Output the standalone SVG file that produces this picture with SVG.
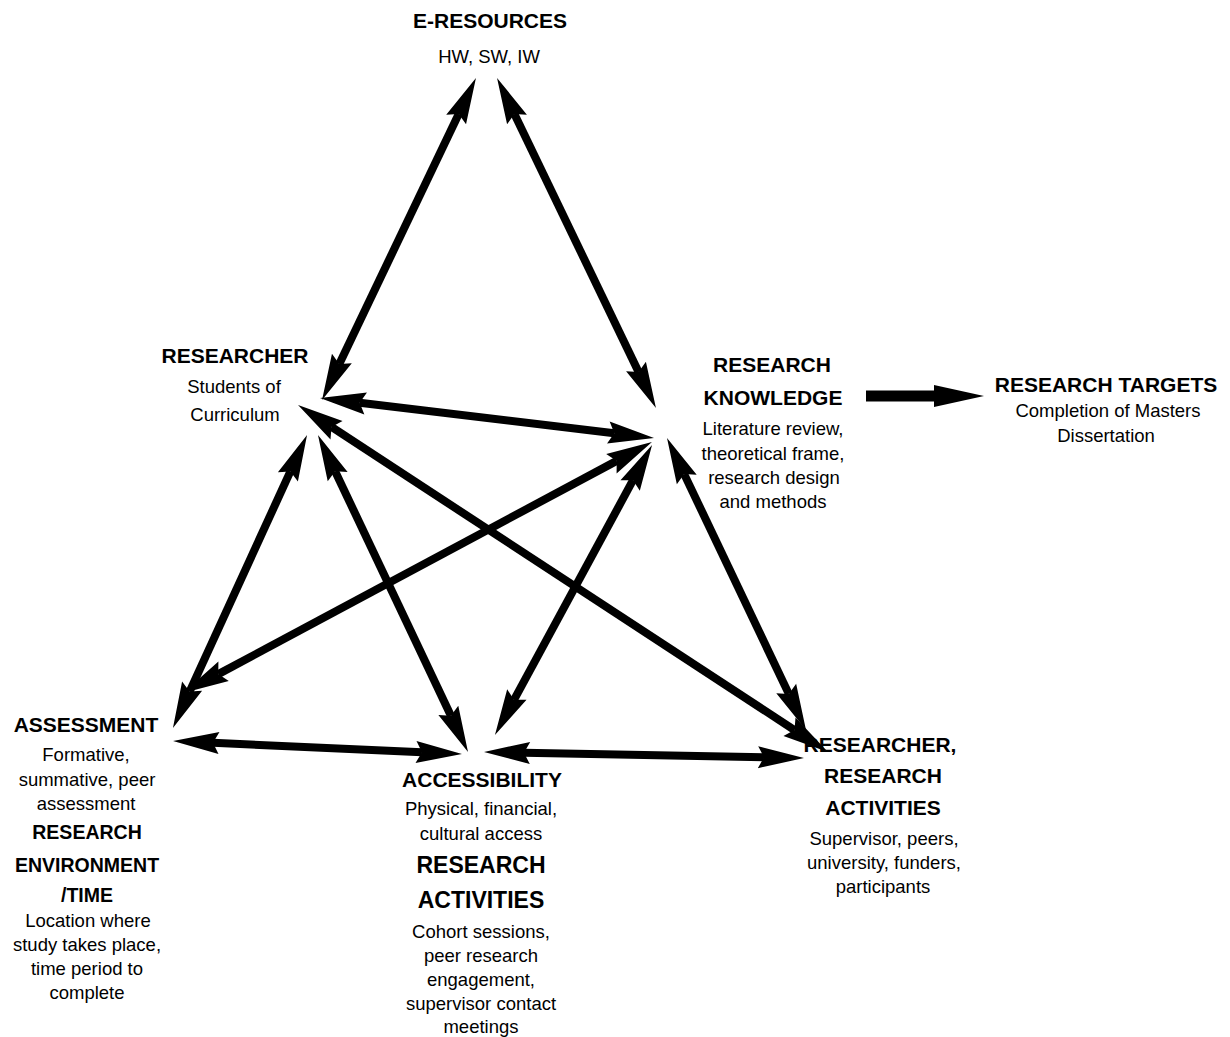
<svg xmlns="http://www.w3.org/2000/svg" width="1230" height="1037" viewBox="0 0 1230 1037">
<defs>
<style>
text{font-family:"Liberation Sans",Arial,sans-serif;fill:#000;text-anchor:middle}
.h{font-weight:bold;font-size:21px}
.h2{font-weight:bold;font-size:23px}
.h3{font-weight:bold;font-size:19.5px}
.b{font-size:18.5px}
.c{stroke:#000;stroke-width:8;fill:none;marker-start:url(#ah);marker-end:url(#ah)}
</style>
<marker id="ah" markerUnits="userSpaceOnUse" markerWidth="46" markerHeight="22" refX="6" refY="11" orient="auto-start-reverse" overflow="visible">
<path d="M0,0 L46,11 L0,22 L6,11 z" fill="#000"/>
</marker>
<marker id="ah2" markerUnits="userSpaceOnUse" markerWidth="50" markerHeight="22" refX="2" refY="11" orient="auto" overflow="visible">
<path d="M0,0 L50,11 L0,22 z" fill="#000"/>
</marker>
</defs>
<rect width="1230" height="1037" fill="#fff"/>
<g id="e-resources">
<text class="h" x="490" y="28">E-RESOURCES</text>
<text class="b" x="489" y="63">HW, SW, IW</text>
</g>
<g id="researcher">
<text class="h" x="235" y="363">RESEARCHER</text>
<text class="b" x="234" y="393">Students of</text>
<text class="b" x="235" y="421">Curriculum</text>
</g>
<g id="research-knowledge">
<text class="h" x="772" y="372">RESEARCH</text>
<text class="h" x="773" y="405">KNOWLEDGE</text>
<text class="b" x="773" y="435">Literature review,</text>
<text class="b" x="773" y="460">theoretical frame,</text>
<text class="b" x="774" y="484">research design</text>
<text class="b" x="773" y="508">and methods</text>
</g>
<g id="research-targets">
<text class="h" x="1106" y="392">RESEARCH TARGETS</text>
<text class="b" x="1108" y="417">Completion of Masters</text>
<text class="b" x="1106" y="442">Dissertation</text>
</g>
<g id="assessment">
<text class="h" x="86" y="732">ASSESSMENT</text>
<text class="b" x="86" y="761">Formative,</text>
<text class="b" x="87" y="786">summative, peer</text>
<text class="b" x="86" y="810">assessment</text>
<text class="h3" x="87" y="839">RESEARCH</text>
<text class="h3" x="87" y="872">ENVIRONMENT</text>
<text class="h3" x="87" y="902">/TIME</text>
<text class="b" x="88" y="927">Location where</text>
<text class="b" x="87" y="951">study takes place,</text>
<text class="b" x="87" y="975">time period to</text>
<text class="b" x="87" y="999">complete</text>
</g>
<g id="accessibility">
<text class="h" x="482" y="787">ACCESSIBILITY</text>
<text class="b" x="481" y="815">Physical, financial,</text>
<text class="b" x="481" y="840">cultural access</text>
<text class="h2" x="481" y="873">RESEARCH</text>
<text class="h2" x="481" y="908">ACTIVITIES</text>
<text class="b" x="481" y="938">Cohort sessions,</text>
<text class="b" x="481" y="962">peer research</text>
<text class="b" x="481" y="986">engagement,</text>
<text class="b" x="481" y="1010">supervisor contact</text>
<text class="b" x="481" y="1033">meetings</text>
</g>
<g id="researcher-research-activities">
<text class="h" x="880" y="752">RESEARCHER,</text>
<text class="h" x="883" y="783">RESEARCH</text>
<text class="h" x="883" y="815">ACTIVITIES</text>
<text class="b" x="884" y="845">Supervisor, peers,</text>
<text class="b" x="884" y="869">university, funders,</text>
<text class="b" x="883" y="893">participants</text>
</g>
<g id="connectors">
<line class="c" x1="458.7" y1="114.1" x2="339.3" y2="363.9"/>
<line class="c" x1="514.4" y1="114.0" x2="638.6" y2="372.0"/>
<line class="c" x1="359.7" y1="402.8" x2="614.3" y2="433.2"/>
<line class="c" x1="331.5" y1="426.9" x2="794.5" y2="730.1"/>
<line class="c" x1="290.4" y1="471.4" x2="189.6" y2="691.6"/>
<line class="c" x1="335.1" y1="471.2" x2="450.9" y2="715.8"/>
<line class="c" x1="616.7" y1="460.9" x2="218.3" y2="674.1"/>
<line class="c" x1="633.0" y1="480.2" x2="514.0" y2="699.8"/>
<line class="c" x1="684.2" y1="474.1" x2="788.8" y2="693.9"/>
<line class="c" x1="213.0" y1="742.8" x2="422.0" y2="752.2"/>
<line class="c" x1="524.0" y1="752.8" x2="764.0" y2="757.3"/>
<line x1="866" y1="396" x2="936" y2="396" stroke="#000" stroke-width="11" marker-end="url(#ah2)"/>
</g>
</svg>
